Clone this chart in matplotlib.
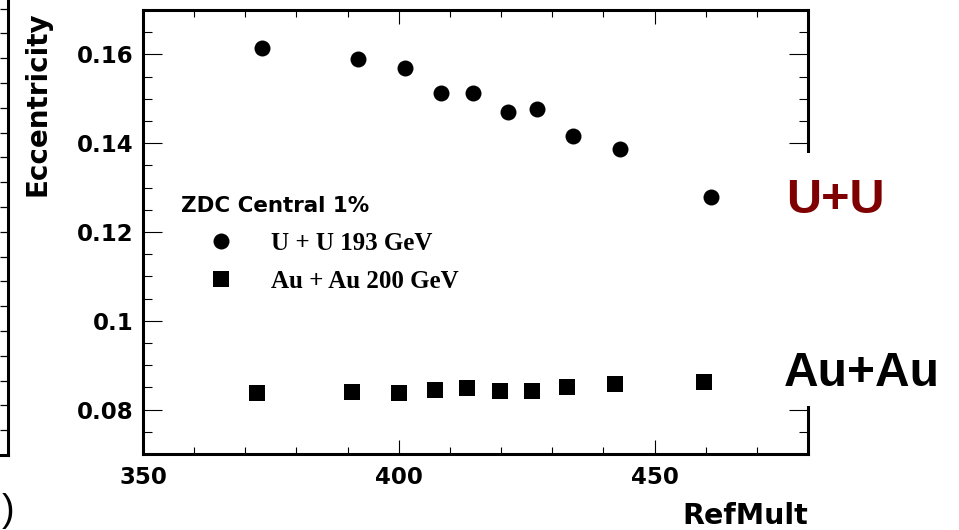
import matplotlib
matplotlib.use("Agg")
import matplotlib.pyplot as plt
from matplotlib.ticker import MultipleLocator
from matplotlib.patches import Rectangle
from matplotlib.lines import Line2D

# U+U 193 GeV (ZDC central 1%)
uu_refmult = [373.2, 392.0, 401.2, 408.2, 414.6, 421.3, 427.1, 434.1, 443.3, 461.1]
uu_ecc = [0.1615, 0.1589, 0.1570, 0.1513, 0.1514, 0.1471, 0.1476, 0.1417, 0.1387, 0.1278]

# Au+Au 200 GeV
auau_refmult = [372.3, 390.9, 400.1, 407.0, 413.4, 419.8, 426.0, 432.9, 442.3, 459.7]
auau_ecc = [0.0838, 0.0839, 0.0838, 0.0844, 0.0849, 0.0842, 0.0842, 0.0852, 0.0857, 0.0862]

xticks = [350, 400, 450]
xtick_labels = ['350', '400', '450']
yticks = [0.08, 0.10, 0.12, 0.14, 0.16]
ytick_labels = ['0.08', '0.1', '0.12', '0.14', '0.16']

W, H = 959, 530
fig = plt.figure(figsize=(W / 100, H / 100), dpi=100)

# cropped neighbour panel on the far left
ax0 = fig.add_axes([-1, 1 - 455 / H, 1 + 8 / W, 0.95])
ax0.set_ylim(0, 0.95 * H / 24.8)
ax0.yaxis.set_major_locator(MultipleLocator(1))
ax0.tick_params(axis='y', direction='in', left=False, right=True, labelleft=False,
                length=6, width=0.9)
ax0.tick_params(axis='x', bottom=False, labelbottom=False)
for s in ['right', 'bottom']:
    ax0.spines[s].set_linewidth(2.2)
for s in ['left', 'top']:
    ax0.spines[s].set_visible(False)
fig.text(14 / W, 1 - 511 / H, ')', fontsize=27, ha='right', va='center',
         family='Liberation Sans')

ax = fig.add_axes([143 / W, 1 - 454 / H, 665 / W, 444 / H])
ax.plot(uu_refmult, uu_ecc, 'o', color='black', ms=11.5, mew=0)
ax.plot(auau_refmult, auau_ecc, 's', color='black', ms=11.5, mew=0)

ax.set_xlim(350, 480)
ax.set_ylim(0.07, 0.17)
ax.set_xticks(xticks)
ax.set_xticklabels(xtick_labels)
ax.set_yticks(yticks)
ax.set_yticklabels(ytick_labels)
ax.xaxis.set_minor_locator(MultipleLocator(10))
ax.yaxis.set_minor_locator(MultipleLocator(0.005))
ax.tick_params(which='both', direction='in', top=True, right=True, width=0.8)
ax.tick_params(axis='x', which='major', length=10, pad=8.5)
ax.tick_params(axis='x', which='minor', length=5)
ax.tick_params(axis='y', which='major', length=13.5, pad=7)
ax.tick_params(axis='y', which='minor', length=6.8)
for lab in ax.get_xticklabels() + ax.get_yticklabels():
    lab.set_fontfamily('DejaVu Sans')
    lab.set_fontweight('bold')
    lab.set_fontsize(16.5)
for s in ax.spines.values():
    s.set_linewidth(2.2)

fig.text(37.5 / W, 1 - 11 / H, 'Eccentricity', rotation=90, ha='center', va='top',
         fontsize=20, fontweight='bold', family='DejaVu Sans')
fig.text(808 / W, 1 - 524 / H, 'RefMult', ha='right', va='baseline',
         fontsize=20.5, fontweight='bold', family='DejaVu Sans')

handles = [Line2D([], [], ls='none', marker='o', color='black', ms=11.5, mew=0),
           Line2D([], [], ls='none', marker='s', color='black', ms=11.5, mew=0)]
ax.legend(handles, ['U + U 193 GeV', 'Au + Au 200 GeV'], title='ZDC Central 1%',
          loc='upper left', bbox_to_anchor=(0.038, 0.609), frameon=False,
          borderpad=0, handlelength=3.2, handletextpad=0.4, labelspacing=0.62,
          alignment='left',
          prop={'family': 'Liberation Serif', 'weight': 'bold', 'size': 18},
          title_fontproperties={'family': 'DejaVu Sans', 'weight': 'bold', 'size': 15.4})

# white panel that hides the right frame behind the collision labels
fig.add_artist(Rectangle((785 / W, 1 - 406 / H), (W - 785) / W, 253 / H,
                         transform=fig.transFigure, facecolor='white',
                         edgecolor='none', zorder=5))
fig.text(786 / W, 1 - 213 / H, 'U+U', ha='left', va='baseline', fontsize=35,
         fontweight='bold', family='Liberation Sans', color='#7f0000', zorder=6)
fig.text(784 / W, 1 - 386 / H, 'Au+Au', ha='left', va='baseline', fontsize=34.5,
         fontweight='bold', family='Liberation Sans', color='black', zorder=6)

fig.savefig('out.png', dpi=100)
